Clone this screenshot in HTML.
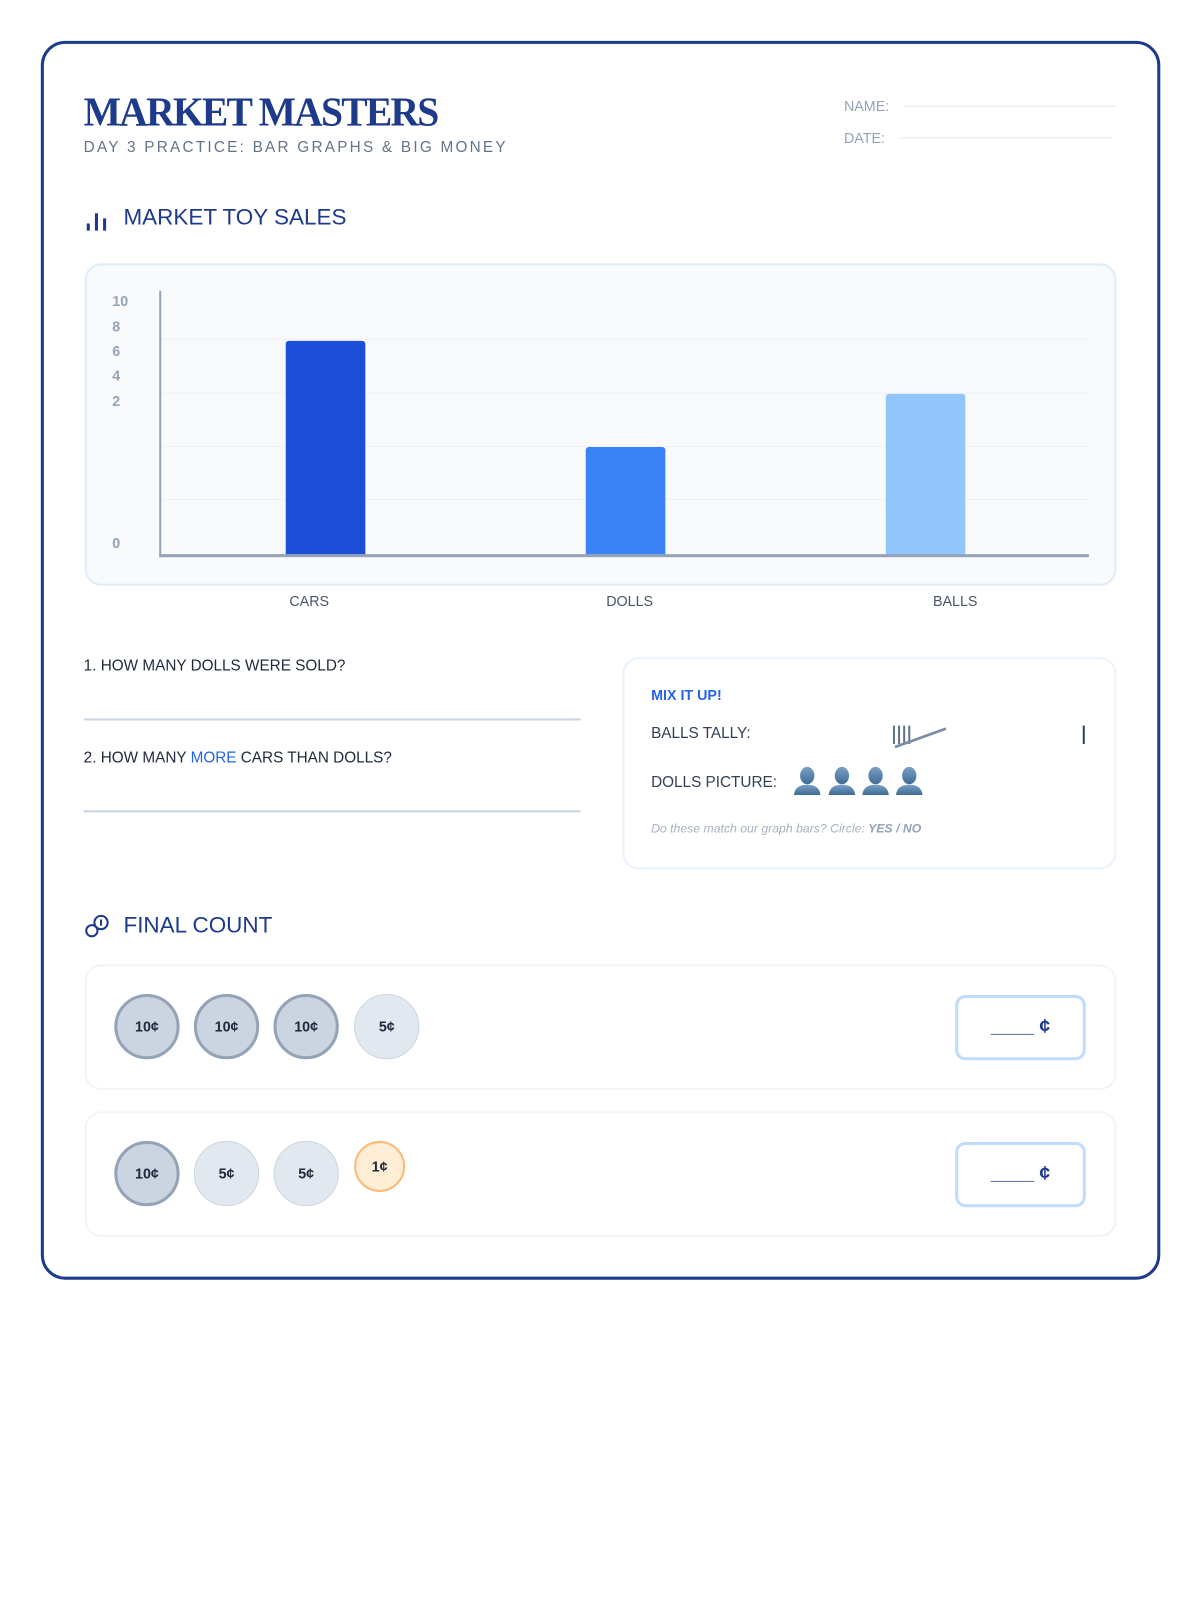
<!DOCTYPE html>
<html><head><meta charset="utf-8"><style>
*{margin:0;padding:0;box-sizing:border-box}
html,body{width:1200px;height:1600px;background:#fff;overflow:hidden;font-family:"Liberation Sans",sans-serif}
#w{position:absolute;left:0;top:0;width:1170px;height:1560px;transform:scale(1.0205);transform-origin:0 0}
.a{position:absolute;white-space:nowrap}
.card{left:40px;top:40px;width:1097px;height:1214px;border:3px solid #1e3a8a;border-radius:24px}
.t{left:82px;top:88px;font-family:"Liberation Serif",serif;font-weight:bold;font-size:40px;color:#1e3a8a;letter-spacing:-1.8px;line-height:44px;transform:scaleX(0.97);transform-origin:0 0}
.sub{left:82px;top:136px;font-size:15px;letter-spacing:2.2px;color:#64748b;line-height:18px}
.lbl{font-size:14px;color:#94a3b8;line-height:16px}
.ln{position:absolute;height:2px;background:#eef2f7}
.h{font-size:22px;color:#1e3a8a;line-height:26px}
.box{border:2px solid #e0ecfb;border-radius:16px}
.tick{font-size:14px;font-weight:bold;color:#94a3b8;left:110px;line-height:16px}
.grid{position:absolute;left:159px;width:908px;height:1px;background:#edf1f6}
.bar{position:absolute;width:78px;border-radius:3px 3px 0 0}
.xl{font-size:14px;color:#475569;line-height:16px;transform:translateX(-50%)}
.q{font-size:15px;color:#1e293b;line-height:18px;left:82px}
.coin{position:absolute;width:64px;height:64px;border-radius:50%;display:flex;align-items:center;justify-content:center;font-weight:bold;font-size:14px;color:#1e293b}
.c10{background:#cbd5e1;border:3px solid #94a3b8}
.c5{background:#e2e8f0;border:1px solid #cbd5e1}
.c1{width:50px;height:50px;background:#ffedd5;border:2px solid #fdba74}
.ans{position:absolute;width:128px;height:64px;border:3px solid #bfdbfe;border-radius:10px;display:flex;align-items:center;justify-content:center;font-weight:bold;font-size:19px;color:#1e3a8a}
</style></head><body><div id="w">
<div class="a card"></div>
<div class="a t">MARKET MASTERS</div>
<div class="a sub">DAY 3 PRACTICE: BAR GRAPHS &amp; BIG MONEY</div>
<div class="a lbl" style="left:827px;top:96px">NAME:</div><div class="ln" style="left:886px;top:103px;width:208px"></div>
<div class="a lbl" style="left:827px;top:127px">DATE:</div><div class="ln" style="left:882px;top:134px;width:208px"></div>

<svg class="a" style="left:84px;top:203px" width="22" height="24"><rect x="1" y="16" width="3" height="7" fill="#1e3a8a"/><rect x="9" y="6" width="3" height="17" fill="#1e3a8a"/><rect x="17" y="11" width="3" height="12" fill="#1e3a8a"/></svg>
<div class="a h" style="left:121px;top:200px">MARKET TOY SALES</div>

<div class="a box" style="left:83px;top:258px;width:1011px;height:316px;background:#f8fafc"></div>
<div class="grid" style="top:332px"></div><div class="grid" style="top:385px"></div><div class="grid" style="top:437px"></div><div class="grid" style="top:489px"></div>
<div class="a tick" style="top:287px">10</div><div class="a tick" style="top:312px">8</div><div class="a tick" style="top:336px">6</div><div class="a tick" style="top:360px">4</div><div class="a tick" style="top:385px">2</div><div class="a tick" style="top:524px">0</div>
<div class="bar" style="left:280px;top:334px;height:210px;background:#1d4ed8"></div>
<div class="bar" style="left:574px;top:438px;height:106px;background:#3b82f6"></div>
<div class="bar" style="left:868px;top:386px;height:158px;background:#93c5fd"></div>
<div class="a" style="left:156px;top:285px;width:2px;height:261px;background:#94a3b8"></div>
<div class="a" style="left:156px;top:543px;width:911px;height:3px;background:#94a3b8"></div>
<div class="a xl" style="left:303px;top:581px">CARS</div>
<div class="a xl" style="left:617px;top:581px">DOLLS</div>
<div class="a xl" style="left:936px;top:581px">BALLS</div>

<div class="a q" style="top:644px">1. HOW MANY DOLLS WERE SOLD?</div>
<div class="a" style="left:82px;top:704px;width:487px;height:2px;background:#cbd5e1"></div>
<div class="a q" style="top:734px">2. HOW MANY <span style="color:#2563eb">MORE</span> CARS THAN DOLLS?</div>
<div class="a" style="left:82px;top:794px;width:487px;height:2px;background:#cbd5e1"></div>

<div class="a box" style="left:610px;top:644px;width:484px;height:208px;border-color:#eaf2fd"></div>
<div class="a" style="left:638px;top:673px;font-size:14px;font-weight:bold;color:#2563eb">MIX IT UP!</div>
<div class="a" style="left:638px;top:710px;font-size:15px;color:#334155">BALLS TALLY:</div>
<svg class="a" style="left:872px;top:708px" width="60" height="28"><g stroke="#64748b" stroke-width="2"><line x1="4" y1="3" x2="4" y2="21"/><line x1="9" y1="3" x2="9" y2="21"/><line x1="14" y1="3" x2="14" y2="21"/><line x1="19" y1="3" x2="19" y2="21"/></g><line x1="5" y1="24" x2="55" y2="6" stroke="#7b8ba3" stroke-width="2.5"/></svg>
<div class="a" style="left:1061px;top:711px;width:2px;height:18px;background:#334155"></div>
<div class="a" style="left:638px;top:758px;font-size:15px;color:#334155">DOLLS PICTURE:</div>
<svg class="a" style="left:777px;top:751px" width="135" height="30"><defs><linearGradient id="g" x1="0" y1="0" x2="0" y2="1"><stop offset="0" stop-color="#7aa0c4"/><stop offset="1" stop-color="#3f6b95"/></linearGradient></defs>
<g fill="url(#g)"><g transform="translate(0,0)"><ellipse cx="14" cy="9" rx="7" ry="8.5"/><path d="M1 28 Q2 18 14 18 Q26 18 27 28Z"/></g><g transform="translate(34,0)"><ellipse cx="14" cy="9" rx="7" ry="8.5"/><path d="M1 28 Q2 18 14 18 Q26 18 27 28Z"/></g><g transform="translate(67,0)"><ellipse cx="14" cy="9" rx="7" ry="8.5"/><path d="M1 28 Q2 18 14 18 Q26 18 27 28Z"/></g><g transform="translate(100,0)"><ellipse cx="14" cy="9" rx="7" ry="8.5"/><path d="M1 28 Q2 18 14 18 Q26 18 27 28Z"/></g></g></svg>
<div class="a" style="left:638px;top:805px;font-size:12px;font-style:italic;color:#a5b1c2">Do these match our graph bars? Circle: <b style="color:#94a3b8">YES / NO</b></div>

<svg class="a" style="left:82px;top:896px" width="26" height="24"><g fill="none" stroke="#1e3a8a" stroke-width="2"><circle cx="8" cy="16" r="5.5"/><circle cx="17" cy="8" r="6.5"/><line x1="17" y1="5" x2="17" y2="11"/></g></svg>
<div class="a h" style="left:121px;top:894px">FINAL COUNT</div>

<div class="a box" style="left:83px;top:945px;width:1011px;height:123px;border-color:#f1f5f9"></div>
<div class="coin c10" style="left:112px;top:974px">10¢</div>
<div class="coin c10" style="left:190px;top:974px">10¢</div>
<div class="coin c10" style="left:268px;top:974px">10¢</div>
<div class="coin c5" style="left:347px;top:974px">5¢</div>
<div class="ans" style="left:936px;top:975px">____ ¢</div>

<div class="a box" style="left:83px;top:1089px;width:1011px;height:123px;border-color:#f1f5f9"></div>
<div class="coin c10" style="left:112px;top:1118px">10¢</div>
<div class="coin c5" style="left:190px;top:1118px">5¢</div>
<div class="coin c5" style="left:268px;top:1118px">5¢</div>
<div class="coin c1" style="left:347px;top:1118px">1¢</div>
<div class="ans" style="left:936px;top:1119px">____ ¢</div>
</div></body></html>
